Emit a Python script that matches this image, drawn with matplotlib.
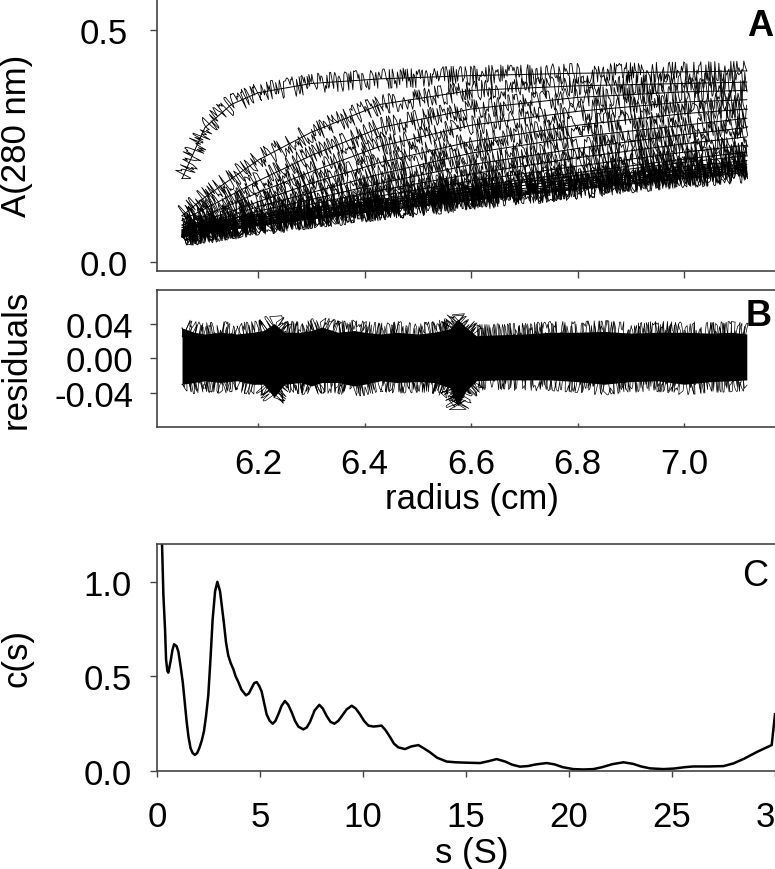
# sedimentacion: barridos A(280 nm), residuales y distribucion c(s)
import matplotlib
matplotlib.use('Agg')
import matplotlib.pyplot as plt

plt.rcParams['font.family'] = ['Liberation Sans', 'DejaVu Sans']
plt.rcParams['axes.unicode_minus'] = False

## datos leidos de la figura
# radios (cm) donde se leyeron los ajustes de cada barrido
radio = [6.057, 6.10, 6.15, 6.20, 6.30, 6.43, 6.60, 6.80, 7.00, 7.118]

# ajustes de los barridos, A(280 nm) en cada radio
barridos = [
    [0.180, 0.290, 0.340, 0.365, 0.385, 0.395, 0.402, 0.407, 0.410, 0.412],
    [0.100, 0.140, 0.180, 0.220, 0.280, 0.340, 0.370, 0.380, 0.385, 0.388],
    [0.090, 0.115, 0.145, 0.175, 0.230, 0.290, 0.330, 0.355, 0.367, 0.370],
    [0.080, 0.100, 0.125, 0.150, 0.195, 0.250, 0.295, 0.325, 0.345, 0.350],
    [0.075, 0.090, 0.110, 0.130, 0.170, 0.215, 0.260, 0.295, 0.320, 0.330],
    [0.070, 0.085, 0.100, 0.120, 0.150, 0.190, 0.235, 0.270, 0.295, 0.310],
    [0.068, 0.080, 0.093, 0.110, 0.135, 0.170, 0.210, 0.245, 0.275, 0.290],
    [0.066, 0.077, 0.088, 0.100, 0.125, 0.155, 0.190, 0.225, 0.255, 0.270],
    [0.064, 0.074, 0.084, 0.095, 0.115, 0.143, 0.175, 0.207, 0.237, 0.252],
    [0.062, 0.071, 0.081, 0.091, 0.110, 0.135, 0.163, 0.193, 0.222, 0.237],
    [0.060, 0.069, 0.079, 0.090, 0.108, 0.131, 0.158, 0.187, 0.215, 0.229],
    [0.059, 0.067, 0.077, 0.087, 0.104, 0.126, 0.152, 0.179, 0.206, 0.219],
    [0.058, 0.066, 0.075, 0.085, 0.101, 0.121, 0.146, 0.172, 0.197, 0.210],
    [0.057, 0.065, 0.074, 0.083, 0.099, 0.118, 0.142, 0.168, 0.192, 0.205],
    [0.056, 0.064, 0.073, 0.082, 0.097, 0.116, 0.139, 0.164, 0.188, 0.201],
    [0.055, 0.063, 0.072, 0.081, 0.095, 0.114, 0.137, 0.161, 0.185, 0.198],
    [0.055, 0.062, 0.071, 0.080, 0.094, 0.112, 0.135, 0.159, 0.182, 0.195],
    [0.054, 0.061, 0.070, 0.079, 0.093, 0.111, 0.133, 0.157, 0.180, 0.193],
]

# envolvente de los residuales (panel B)
r_res = [6.057, 6.08, 6.10, 6.13, 6.16, 6.19, 6.21, 6.23, 6.25, 6.28, 6.30, 6.32,
         6.35, 6.38, 6.40, 6.43, 6.46, 6.50, 6.53, 6.56, 6.575, 6.59, 6.61, 6.65,
         6.70, 6.75, 6.80, 6.85, 6.90, 6.95, 7.00, 7.05, 7.09, 7.118]
res_sup = [0.035, 0.030, 0.028, 0.030, 0.028, 0.030, 0.032, 0.040, 0.030, 0.030, 0.032, 0.036,
           0.030, 0.032, 0.030, 0.028, 0.030, 0.028, 0.030, 0.034, 0.045, 0.036, 0.026, 0.027,
           0.028, 0.030, 0.030, 0.031, 0.029, 0.030, 0.030, 0.029, 0.030, 0.028]
res_inf = [-0.030, -0.028, -0.026, -0.028, -0.026, -0.030, -0.030, -0.045, -0.030, -0.028, -0.032, -0.028,
           -0.028, -0.032, -0.030, -0.026, -0.028, -0.027, -0.028, -0.034, -0.055, -0.038, -0.026, -0.025,
           -0.025, -0.025, -0.027, -0.030, -0.027, -0.026, -0.030, -0.027, -0.026, -0.025]

# distribucion c(s) (panel C)
s_val = [0.22, 0.31, 0.39, 0.44, 0.50, 0.55, 0.66, 0.75, 0.83, 0.95, 1.04, 1.15, 1.25, 1.35,
         1.44, 1.53, 1.63, 1.73, 1.84, 1.95, 2.05, 2.17, 2.28, 2.38, 2.49, 2.60, 2.70, 2.82,
         2.93, 3.06, 3.15, 3.25, 3.35, 3.46, 3.58, 3.70, 3.82, 3.95, 4.10, 4.32, 4.46, 4.60,
         4.72, 4.84, 4.96, 5.08, 5.20, 5.32, 5.47, 5.62, 5.75, 5.89, 6.05, 6.21, 6.37, 6.54,
         6.70, 6.86, 7.10, 7.27, 7.43, 7.65, 7.88, 8.05, 8.24, 8.42, 8.61, 8.80, 8.97, 9.20,
         9.45, 9.65, 9.85, 10.05, 10.26, 10.50, 10.70, 10.90, 11.10, 11.31, 11.50, 11.71,
         12.04, 12.35, 12.69, 12.95, 13.25, 13.60, 14.06, 14.50, 15.00, 15.68, 16.10, 16.49,
         16.90, 17.25, 17.62, 18.00, 18.40, 18.92, 19.30, 19.70, 20.21, 20.70, 21.18, 21.60,
         22.10, 22.64, 23.10, 23.50, 23.93, 24.58, 25.10, 25.60, 26.03, 26.80, 27.50, 27.98,
         28.50, 29.11, 29.50, 29.84, 30.0]
c_val = [1.30, 0.93, 0.75, 0.59, 0.53, 0.52, 0.58, 0.64, 0.67, 0.66, 0.63, 0.55, 0.47, 0.36,
         0.26, 0.18, 0.12, 0.095, 0.085, 0.095, 0.12, 0.16, 0.21, 0.29, 0.40, 0.60, 0.80, 0.95,
         1.00, 0.95, 0.87, 0.78, 0.68, 0.61, 0.57, 0.54, 0.50, 0.47, 0.43, 0.40, 0.41, 0.44,
         0.465, 0.47, 0.45, 0.42, 0.36, 0.30, 0.265, 0.25, 0.265, 0.30, 0.345, 0.37, 0.35, 0.31,
         0.265, 0.235, 0.22, 0.23, 0.26, 0.32, 0.35, 0.33, 0.29, 0.26, 0.25, 0.265, 0.29, 0.325,
         0.345, 0.33, 0.30, 0.265, 0.24, 0.235, 0.237, 0.24, 0.215, 0.18, 0.145, 0.125,
         0.116, 0.13, 0.137, 0.12, 0.099, 0.07, 0.05, 0.046, 0.044, 0.042, 0.052, 0.063,
         0.05, 0.033, 0.023, 0.026, 0.035, 0.042, 0.035, 0.02, 0.01, 0.008, 0.01, 0.02,
         0.036, 0.046, 0.038, 0.024, 0.014, 0.01, 0.013, 0.02, 0.024, 0.024, 0.026, 0.04,
         0.065, 0.10, 0.12, 0.137, 0.30]

gris = '#444444'
fs = 25

fig = plt.figure(figsize=(7.75, 8.7), dpi=100)
W, H = 775., 870.
axA = fig.add_axes([157/W, 1 - 272/H, 618/W, 272/H])
axB = fig.add_axes([157/W, 1 - 427.5/H, 618/W, 136.5/H])
axC = fig.add_axes([157/W, 1 - 772/H, 618/W, 227/H])

## panel A: datos con ruido (trazo irregular) y ajustes
for i, b in enumerate(barridos):
    ln, = axA.plot(radio, b, color='k', lw=0.6)
    ln.set_sketch_params(10, 1.5 + 0.1 * i, 30)
    axA.plot(radio, b, color='k', lw=0.7)

axA.set_xlim(6.01, 7.171)
axA.set_ylim(-0.019, 0.567)
axA.spines['top'].set_visible(False)
axA.spines['right'].set_visible(False)
axA.set_yticks([0.0, 0.5], ['0.0', '0.5'])
axA.set_xticks([6.2, 6.4, 6.6, 6.8, 7.0], [])
axA.tick_params(direction='out', length=5, width=1, color=gris, labelsize=fs, pad=16)
axA.set_ylabel('A(280 nm)', fontsize=fs)
axA.yaxis.set_label_coords(-0.2006, 0.5)

## panel B: residuales
axB.fill_between(r_res, res_inf, res_sup, color='k', lw=0)
for k, env in enumerate([res_sup, res_inf, res_sup, res_inf]):
    ln, = axB.plot(r_res, env, color='k', lw=0.5)
    ln.set_sketch_params(11, 1.5 + 0.3 * k, 30)

axB.set_xlim(6.01, 7.171)
axB.set_ylim(-0.0788, 0.0788)
axB.spines['right'].set_visible(False)
axB.set_yticks([-0.04, 0.0, 0.04], ['-0.04', '0.00', '0.04'])
axB.set_xticks([6.2, 6.4, 6.6, 6.8, 7.0], ['6.2', '6.4', '6.6', '6.8', '7.0'])
axB.tick_params(axis='y', direction='out', length=5, width=1, color=gris, labelsize=fs, pad=12)
axB.tick_params(axis='x', direction='in', length=3, width=1, color=gris, labelsize=fs, pad=15)
axB.set_ylabel('residuals', fontsize=fs)
axB.yaxis.set_label_coords(-0.2006, 0.5)
axB.set_xlabel('radius (cm)', fontsize=fs, va='baseline')
axB.xaxis.set_label_coords(0.509, -0.60)

## panel C: c(s)
axC.plot(s_val, c_val, color='k', lw=1.8, solid_joinstyle='round')
axC.set_xlim(0, 30)
axC.set_ylim(0, 1.2)
axC.spines['right'].set_visible(False)
axC.set_yticks([0.0, 0.5, 1.0], ['0.0', '0.5', '1.0'])
axC.set_xticks(range(0, 31, 5))
axC.tick_params(axis='y', direction='out', length=5, width=1, color=gris, labelsize=fs, pad=13)
axC.tick_params(axis='x', direction='out', length=4, width=1, color=gris, labelsize=fs, pad=17)
axC.set_ylabel('c(s)', fontsize=fs)
axC.yaxis.set_label_coords(-0.2006, 0.5)
axC.set_xlabel('s (S)', fontsize=fs, va='baseline')
axC.xaxis.set_label_coords(0.509, -0.403)

for ax in (axA, axB, axC):
    for sp in ax.spines.values():
        sp.set_color(gris)
        sp.set_linewidth(1.2)

# letras de los paneles
fig.text(760/W, 1 - 26/H, 'A', fontsize=26, fontweight='bold', ha='center', va='center')
fig.text(759/W, 1 - 316/H, 'B', fontsize=26, fontweight='bold', ha='center', va='center')
fig.text(755/W, 1 - 577/H, 'C', fontsize=26, ha='center', va='center')

plt.savefig('out.png', dpi=100)
